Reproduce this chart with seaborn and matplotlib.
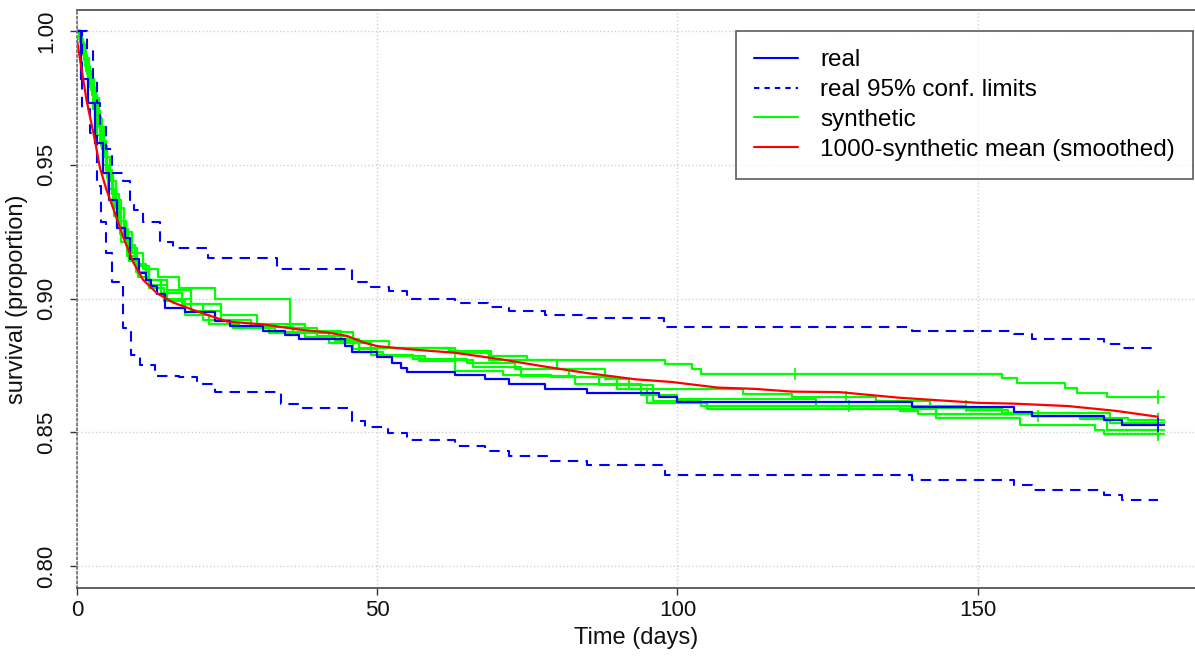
# Кривые выживаемости: реальные данные, доверительные границы, синтетика
import numpy as np
import pandas as pd
import seaborn as sns
from matplotlib import pyplot as plt
from matplotlib.lines import Line2D

# реальная кривая (Kaplan-Meier)
real_t = [0, 0.7, 1.8, 3.0, 4.3, 5.4, 6.6, 8.0, 8.9, 10.3, 11.5, 12.3, 13.3, 14.7, 18, 23, 25.5, 31, 34.7, 37,
          44.7, 45.8, 50, 52.5, 54, 55, 63, 68, 72, 78, 85, 97, 100, 139, 156, 159, 171, 174, 180]
real_s = [1.000, 0.982, 0.973, 0.958, 0.947, 0.937, 0.9265, 0.9228, 0.9146, 0.9097, 0.907, 0.9045, 0.9015, 0.8966,
          0.895, 0.8915, 0.8897, 0.8878, 0.8862, 0.8850, 0.8822, 0.8800, 0.8780, 0.8760, 0.8740, 0.8726, 0.8713,
          0.8698, 0.8680, 0.8660, 0.8648, 0.8630, 0.8613, 0.8596, 0.8577, 0.8560, 0.8546, 0.8527, 0.8527]

# 95% доверительные границы
upper_t = [0, 1.7, 2.7, 3.3, 3.8, 4.9, 5.8, 7.7, 8.8, 9.5, 11, 13.8, 16, 21.9, 33.3, 45.8, 49, 52, 55, 63,
           68.5, 72, 78, 85, 97.7, 139, 156, 159, 171, 174, 180]
upper_s = [1.000, 0.993, 0.982, 0.973, 0.964, 0.956, 0.947, 0.944, 0.937, 0.933, 0.9287, 0.9213, 0.919, 0.9153,
           0.9110, 0.906, 0.9044, 0.9027, 0.900, 0.8984, 0.8969, 0.8953, 0.8938, 0.8928, 0.8895, 0.8878, 0.8866,
           0.8847, 0.8831, 0.8816, 0.8816]
lower_t = [0, 0.8, 2.2, 3.3, 4.0, 4.9, 5.8, 7.7, 9.0, 10.5, 13, 17, 20, 23, 34, 37, 45.8, 48, 51.8, 55,
           63, 68, 72, 78.5, 85, 98, 139, 156, 159, 171, 174, 180]
lower_s = [1.000, 0.971, 0.962, 0.942, 0.9287, 0.917, 0.906, 0.889, 0.879, 0.875, 0.871, 0.8705, 0.868, 0.865,
           0.8605, 0.8592, 0.8542, 0.852, 0.8499, 0.847, 0.8449, 0.843, 0.8411, 0.8393, 0.8377, 0.834, 0.8321,
           0.8303, 0.8285, 0.8266, 0.8247, 0.8247]

# синтетические кривые
syn1_t = [0, 0.8, 1.5, 2.3, 3.2, 4.0, 5.0, 6.0, 7.3, 8.5, 10, 12, 15, 19, 24, 30, 38, 44, 47, 62,
          69, 75, 98, 102.5, 104, 154, 156.5, 164.5, 166.5, 171.5, 180]
syn1_s = [1.000, 0.993, 0.985, 0.978, 0.968, 0.957, 0.946, 0.937, 0.926, 0.919, 0.912, 0.907, 0.903, 0.898,
          0.894, 0.8905, 0.888, 0.885, 0.8815, 0.8803, 0.8785, 0.8769, 0.8754, 0.8735, 0.8719, 0.8704, 0.8683,
          0.8667, 0.8648, 0.8633, 0.8633]
syn2_t = [0, 0.6, 1.3, 2.0, 2.8, 3.6, 4.5, 5.5, 6.5, 7.8, 9.2, 11, 13.5, 17, 23, 35.5, 40, 46, 52, 63,
          68.6, 80, 88, 92, 111, 119, 133, 142, 154, 159, 167, 175, 180]
syn2_s = [1.000, 0.995, 0.990, 0.982, 0.975, 0.964, 0.953, 0.944, 0.934, 0.925, 0.917, 0.911, 0.908, 0.904,
          0.900, 0.889, 0.8875, 0.884, 0.8815, 0.8795, 0.877, 0.8735, 0.8698, 0.8663, 0.8644, 0.863, 0.8615,
          0.859, 0.8573, 0.856, 0.8555, 0.8545, 0.8545]
syn3_t = [0, 0.5, 1.1, 1.9, 2.6, 3.4, 4.3, 5.2, 6.2, 7.4, 8.6, 10.2, 12, 14.5, 18, 22, 27, 33, 40, 45,
          49, 56, 65, 73, 82, 90, 95, 105, 143, 157, 169.6, 171, 180]
syn3_s = [1.000, 0.996, 0.989, 0.980, 0.971, 0.961, 0.950, 0.941, 0.931, 0.921, 0.914, 0.908, 0.904, 0.899,
          0.894, 0.8905, 0.889, 0.8875, 0.886, 0.8835, 0.879, 0.8775, 0.876, 0.8735, 0.8705, 0.866, 0.861,
          0.8586, 0.8553, 0.8528, 0.8507, 0.8493, 0.8493]
syn4_t = [0, 0.7, 1.4, 2.1, 3.0, 3.9, 4.8, 5.8, 7.0, 8.2, 9.6, 11.5, 14, 17.5, 21, 26, 32, 38, 43, 47,
          51, 58, 66, 74, 83, 94, 100, 123, 137, 140, 159, 167, 171.5, 180]
syn4_s = [1.000, 0.994, 0.987, 0.979, 0.970, 0.959, 0.948, 0.939, 0.929, 0.920, 0.913, 0.907, 0.902, 0.898,
          0.892, 0.889, 0.887, 0.8855, 0.884, 0.880, 0.8785, 0.877, 0.8745, 0.871, 0.868, 0.864, 0.8625, 0.8598,
          0.858, 0.857, 0.856, 0.8548, 0.8507, 0.8507]
syn5_t = [0, 0.4, 1.0, 1.7, 2.5, 3.3, 4.1, 5.0, 6.0, 7.1, 8.4, 9.8, 12, 15, 19, 24, 29, 36, 42, 46,
          50, 57, 63, 71, 79, 87, 96, 104, 148, 155, 172, 180]
syn5_s = [1.000, 0.997, 0.991, 0.984, 0.976, 0.967, 0.956, 0.945, 0.935, 0.924, 0.916, 0.910, 0.905, 0.900,
          0.8955, 0.892, 0.8895, 0.887, 0.8835, 0.881, 0.8785, 0.8765, 0.873, 0.8715, 0.8705, 0.8675, 0.8615,
          0.8598, 0.8585, 0.8573, 0.8536, 0.8536]

# цензурированные наблюдения (отметки)
cens_t = [63, 119.6, 128, 128.5, 148, 160]
cens_s = [0.8795, 0.8719, 0.863, 0.8598, 0.8598, 0.856]

# среднее по 1000 синтетическим (сглаженное)
mean_t = [0, 1.6, 3, 3.8, 4.9, 6.3, 7.7, 9.4, 11, 13.3, 16, 20.5, 25, 31, 37, 42, 45, 47.8, 50, 55.5,
          63, 70.8, 77.5, 84.7, 93, 99, 106.7, 113, 119, 127, 137, 150, 156, 165, 173, 180]
mean_s = [0.9966, 0.974, 0.959, 0.949, 0.9407, 0.932, 0.923, 0.9134, 0.907, 0.902, 0.8985, 0.8948, 0.8914,
          0.8903, 0.8884, 0.8872, 0.886, 0.8835, 0.8822, 0.881, 0.8797, 0.8772, 0.8747, 0.8722, 0.8698, 0.8688,
          0.8667, 0.8662, 0.8652, 0.8650, 0.8629, 0.861, 0.8607, 0.8598, 0.858, 0.8558]

sns.set_style('white')
plt.rcParams['font.family'] = ['Liberation Sans', 'DejaVu Sans']

BLUE, GREEN, RED = '#0000FF', '#00FF00', '#FF0000'

fig = plt.figure(figsize=(11.95, 6.56), dpi=100)
ax = fig.add_axes([77 / 1195, 68 / 656, 1118 / 1195, 578 / 656])

# синтетика
for t, s in [(syn1_t, syn1_s), (syn2_t, syn2_s), (syn3_t, syn3_s), (syn4_t, syn4_s), (syn5_t, syn5_s)]:
    sns.lineplot(x=t, y=s, ax=ax, color=GREEN, lw=1.6, drawstyle='steps-post', estimator=None, sort=False)
    ax.plot(t[-1], s[-1], marker='+', ms=10, mew=1.3, color=GREEN)
ax.plot(cens_t, cens_s, ls='none', marker='|', ms=9, mew=1.2, color=GREEN)

# реальная кривая и границы
sns.lineplot(x=real_t, y=real_s, ax=ax, color=BLUE, lw=1.6, drawstyle='steps-post', estimator=None, sort=False)
ax.plot(real_t[-1], real_s[-1], marker='+', ms=10, mew=1.3, color=BLUE)
for t, s in [(upper_t, upper_s), (lower_t, lower_s)]:
    sns.lineplot(x=t, y=s, ax=ax, color=BLUE, lw=1.5, drawstyle='steps-post', estimator=None, sort=False,
                 dashes=False, linestyle=(0, (5, 3.5)))

# среднее
sns.lineplot(x=mean_t, y=mean_s, ax=ax, color=RED, lw=1.6, estimator=None, sort=False)

ax.set_xlim(0, 186.2)
ax.set_ylim(0.79178, 1.00785)
ax.set_xticks([0, 50, 100, 150])
ax.set_yticks([0.80, 0.85, 0.90, 0.95, 1.00])
ax.set_yticklabels(['0.80', '0.85', '0.90', '0.95', '1.00'], rotation=90, va='center')
ax.tick_params(axis='both', labelsize=16, length=5, width=1, color='#333333', labelcolor='#111111',
               direction='out', bottom=True, left=True)
ax.tick_params(axis='y', pad=9)
ax.tick_params(axis='x', pad=4)
ax.grid(True, color='#d0d0d0', linestyle=':', linewidth=1)

for side in ['top', 'bottom']:
    ax.spines[side].set_color('#555555')
    ax.spines[side].set_linewidth(1.3)
ax.spines['right'].set_visible(False)
ax.spines['left'].set_color('#777777')
ax.spines['left'].set_linestyle(':')
ax.spines['left'].set_linewidth(1.3)

ax.set_xlabel('Time (days)', fontsize=17, labelpad=4, color='#111111')
ax.set_ylabel('survival (proportion)', fontsize=17, labelpad=6, color='#111111')

handles = [Line2D([], [], color=BLUE, lw=1.5),
           Line2D([], [], color=BLUE, lw=1.5, linestyle=(0, (2.6, 2.4))),
           Line2D([], [], color=GREEN, lw=1.5),
           Line2D([], [], color=RED, lw=1.5)]
labels = ['real', 'real 95% conf. limits', 'synthetic', '1000-synthetic mean (smoothed)']
leg = ax.legend(handles, labels, loc='upper right', bbox_to_anchor=(1193 / 1195, 1 - 31 / 656),
                bbox_transform=fig.transFigure, fontsize=17.5, frameon=True, fancybox=False,
                handlelength=1.8, handletextpad=0.9, labelspacing=0.32, borderpad=0.75, borderaxespad=0)
leg.get_frame().set_edgecolor('#333333')
leg.get_frame().set_linewidth(1.2)
for txt in leg.get_texts():
    txt.set_color('black')

plt.savefig('out.png', dpi=100)
